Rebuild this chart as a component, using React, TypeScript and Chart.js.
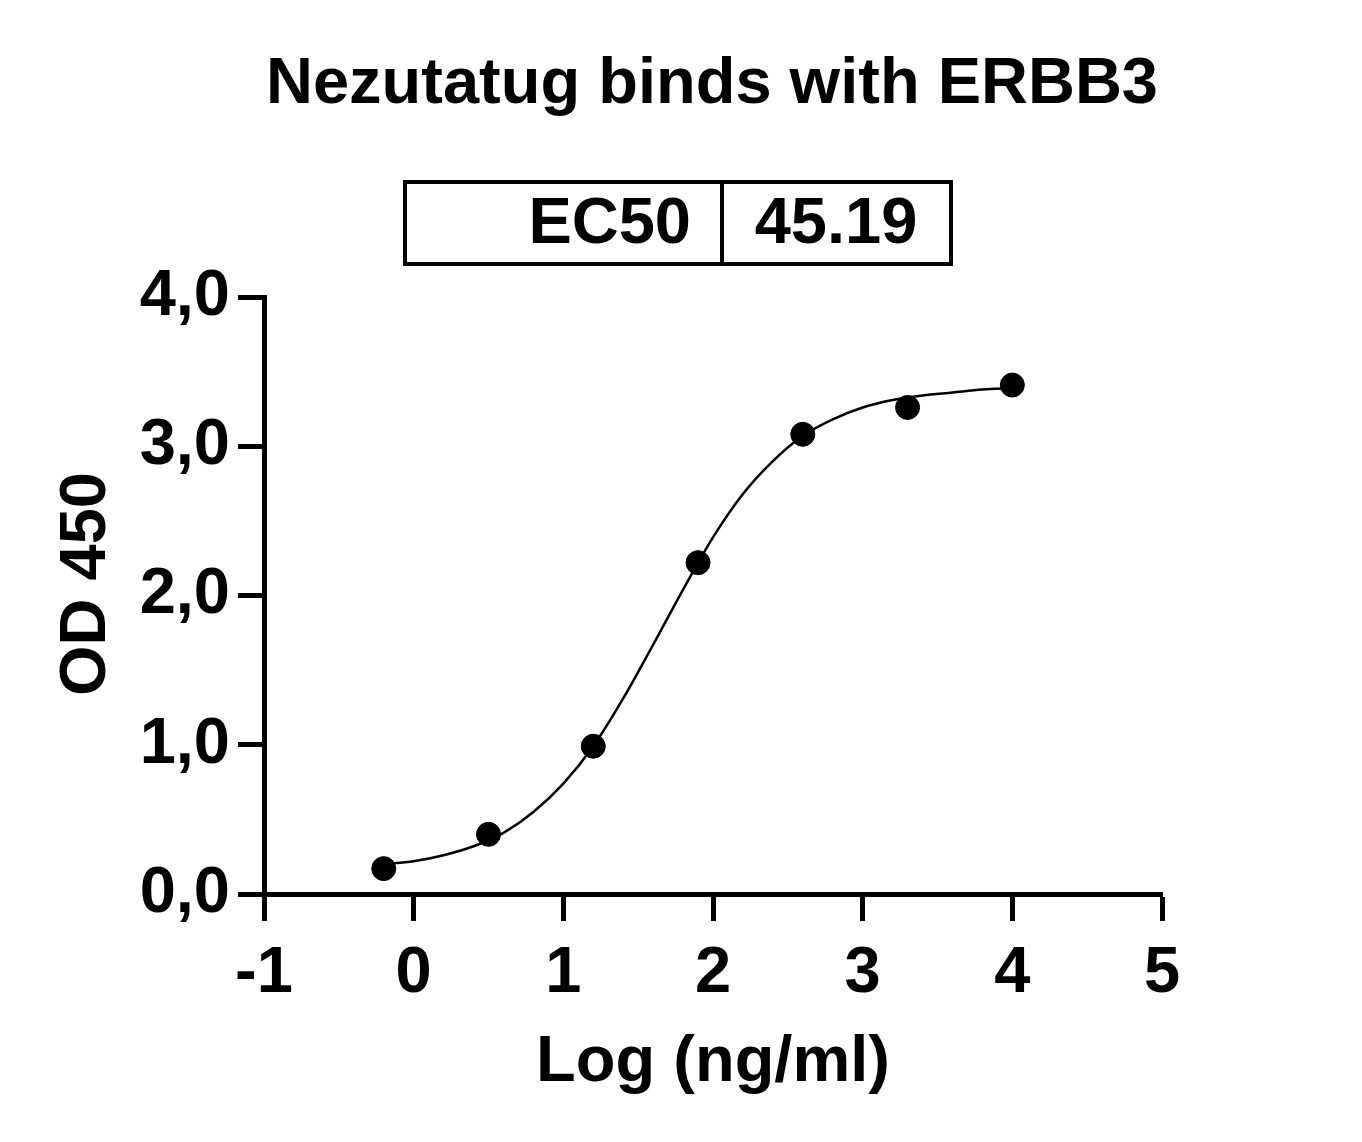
import { useEffect, useRef } from "react"
import { Chart, registerables } from "chart.js"

Chart.register(...registerables)

// Measured points (log concentration vs OD 450)
const logConc = [-0.2, 0.5, 1.2, 1.9, 2.6, 3.3, 4.0]
const od450 = [0.17, 0.4, 0.99, 2.22, 3.08, 3.26, 3.41]

// Fitted curve
const fitX = [-0.2, 0, 0.2, 0.4, 0.6, 0.8, 1.0, 1.2, 1.4, 1.6, 1.8, 2.0, 2.2, 2.4, 2.6, 2.8, 3.0, 3.2, 3.4, 3.6, 3.8, 4.0]
const fitY = [0.2, 0.22, 0.26, 0.32, 0.41, 0.55, 0.74, 0.99, 1.31, 1.67, 2.04, 2.39, 2.68, 2.9, 3.07, 3.18, 3.26, 3.31, 3.34, 3.36, 3.38, 3.39]

const title = "Nezutatug binds with ERBB3"
const yTitle = "OD 450"
const tableLabel = "EC50"
const tableValue = "45.19"

const FONT = "'Liberation Sans', Arial, Helvetica, sans-serif"

const headerPlugin = {
  id: "header",
  afterDraw(chart: Chart) {
    const ctx = chart.ctx
    ctx.save()
    ctx.fillStyle = "#000"
    ctx.font = `bold 65px ${FONT}`
    ctx.textAlign = "center"
    ctx.textBaseline = "alphabetic"
    ctx.fillText(title, 712, 103)

    // EC50 table
    ctx.strokeStyle = "#000"
    ctx.lineWidth = 4
    ctx.strokeRect(405, 182, 546, 82)
    ctx.beginPath()
    ctx.moveTo(722, 182)
    ctx.lineTo(722, 264)
    ctx.stroke()

    ctx.textAlign = "right"
    ctx.fillText(tableLabel, 691, 243)
    ctx.textAlign = "center"
    ctx.fillText(tableValue, 836, 243)

    // y axis title (sits a little above the plot's middle)
    ctx.translate(105, 584)
    ctx.rotate(-Math.PI / 2)
    ctx.textAlign = "center"
    ctx.fillText(yTitle, 0, 0)
    ctx.restore()
  },
}

export default function App() {
  const canvasRef = useRef<HTMLCanvasElement>(null)
  const chartRef = useRef<Chart | null>(null)

  useEffect(() => {
    if (!canvasRef.current) return
    if (chartRef.current) chartRef.current.destroy()
    const ctx = canvasRef.current.getContext("2d")
    if (!ctx) return

    const tickFont = { family: FONT, size: 65, weight: "bold" as const }

    chartRef.current = new Chart(ctx, {
      type: "scatter",
      data: {
        datasets: [
          {
            label: "Fit",
            data: fitX.map((x, i) => ({ x, y: fitY[i] })),
            showLine: true,
            borderColor: "#000",
            borderWidth: 2.5,
            pointRadius: 0,
            tension: 0.4,
            cubicInterpolationMode: "monotone",
          },
          {
            label: "OD 450",
            data: logConc.map((x, i) => ({ x, y: od450[i] })),
            backgroundColor: "#000",
            borderColor: "#000",
            pointRadius: 12,
            pointHoverRadius: 12,
          },
        ],
      },
      options: {
        responsive: false,
        animation: false,
        devicePixelRatio: 1,
        layout: { padding: { top: 297, right: 200, left: 0, bottom: 0 } },
        plugins: {
          legend: { display: false },
          tooltip: { enabled: false },
        },
        scales: {
          x: {
            type: "linear",
            min: -1,
            max: 5,
            ticks: { stepSize: 1, color: "#000", font: tickFont, padding: 14, maxRotation: 0 },
            grid: { drawOnChartArea: false, drawTicks: true, tickLength: 27, tickWidth: 5, tickColor: "#000" },
            border: { display: true, width: 5, color: "#000" },
            title: {
              display: true,
              text: "Log (ng/ml)",
              color: "#000",
              font: tickFont,
              padding: { top: 0, bottom: 40 },
            },
            afterFit(scale) {
              scale.height = 248
            },
          },
          y: {
            type: "linear",
            min: 0,
            max: 4,
            ticks: {
              stepSize: 1,
              color: "#000",
              font: tickFont,
              padding: 8,
              callback: (v) => Number(v).toFixed(1).replace(".", ","),
            },
            grid: { drawOnChartArea: false, drawTicks: true, tickLength: 26, tickWidth: 5, tickColor: "#000" },
            border: { display: true, width: 5, color: "#000" },
            afterFit(scale) {
              scale.width = 264
            },
          },
        },
      },
      plugins: [headerPlugin],
    })

    return () => {
      if (chartRef.current) {
        chartRef.current.destroy()
        chartRef.current = null
      }
    }
  }, [])

  return (
    <div style={{ position: "absolute", left: 0, top: 0, width: 1362, height: 1142, background: "#fff" }}>
      <canvas ref={canvasRef} width={1362} height={1142} style={{ display: "block" }}></canvas>
    </div>
  )
}
